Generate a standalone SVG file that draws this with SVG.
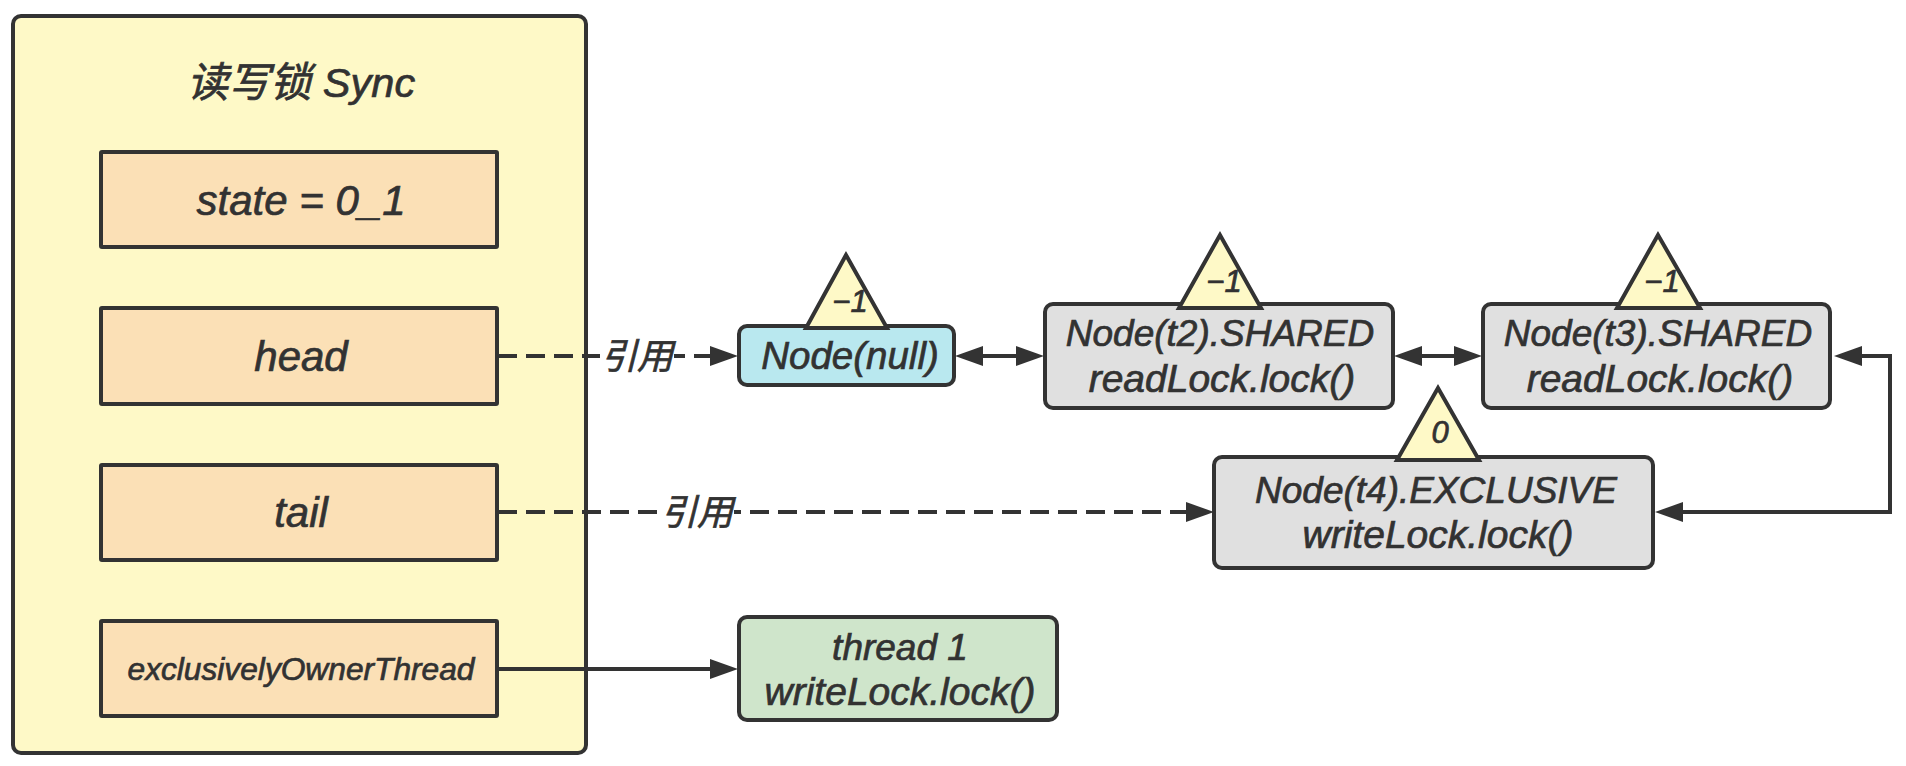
<svg xmlns="http://www.w3.org/2000/svg" width="1906" height="766" viewBox="0 0 1906 766">
  <style>
    text { font-family: "Liberation Sans", "Noto Sans CJK SC", sans-serif; font-style: italic; fill: #323232; stroke: #323232; stroke-width: 0.7px; text-anchor: middle; }
    .outer { fill: #FEF9C7; stroke: #333; stroke-width: 4; }
    .field { fill: #FBE0B6; stroke: #333; stroke-width: 4; }
    .node { stroke: #333; stroke-width: 4; }
    .tri { fill: #FEF9C7; stroke: #333; stroke-width: 4; stroke-linejoin: miter; }
    .big { font-size: 42px; }
    .mid { font-size: 37px; }
    .low { font-size: 39px; }
    .small { font-size: 31px; }
    .link { fill: none; stroke: #333; stroke-width: 4; }
    .dash { stroke-dasharray: 19 9; }
    .ref { font-size: 36px; }
  </style>
  <defs>
    <marker id="head" markerUnits="userSpaceOnUse" markerWidth="28" markerHeight="20" refX="18" refY="10" orient="auto-start-reverse">
      <path d="M0 0L28 10L0 20z" fill="#333"/>
    </marker>
  </defs>
  <rect width="1906" height="766" fill="#fff"/>

  <g id="sync">
    <rect class="outer" x="13" y="16" width="573" height="737" rx="8"/>
    <text x="301" y="97" font-size="41.5">读写锁 Sync</text>
  </g>
  <g id="state">
    <rect class="field" x="101" y="152" width="396" height="95" rx="1"/>
    <text class="big" x="301" y="215">state = 0_1</text>
  </g>
  <g id="head-field">
    <rect class="field" x="101" y="308" width="396" height="96" rx="1"/>
    <text class="big" x="301" y="371">head</text>
  </g>
  <g id="tail-field">
    <rect class="field" x="101" y="465" width="396" height="95" rx="1"/>
    <text class="big" x="301" y="527">tail</text>
  </g>
  <g id="owner-field">
    <rect class="field" x="101" y="621" width="396" height="95" rx="1"/>
    <text x="301" y="680" font-size="31.7">exclusivelyOwnerThread</text>
  </g>

  <g id="connectors">
    <path class="link dash" d="M498 356H728" marker-end="url(#head)"/>
    <path class="link dash" d="M498 512H1204" marker-end="url(#head)"/>
    <path class="link" d="M498 669H728" marker-end="url(#head)"/>
    <path class="link" d="M965 356H1034" marker-start="url(#head)" marker-end="url(#head)"/>
    <path class="link" d="M1404 356H1472" marker-start="url(#head)" marker-end="url(#head)"/>
    <path class="link" d="M1844 356H1890V512H1665" marker-start="url(#head)" marker-end="url(#head)"/>
    <rect x="600" y="338" width="74" height="38" fill="#fff"/>
    <text class="ref" x="637" y="369">引用</text>
    <rect x="660" y="494" width="74" height="38" fill="#fff"/>
    <text class="ref" x="697" y="525">引用</text>
  </g>

  <g id="node-null">
    <rect class="node" x="739" y="326" width="215" height="59" rx="8" fill="#B9E8EF"/>
    <text x="850" y="369" font-size="38.5">Node(null)</text>
    <path class="tri" d="M846 255L806 328H887z"/>
    <text class="small" x="850" y="312">−1</text>
  </g>
  <g id="node-t2">
    <rect class="node" x="1045" y="304" width="348" height="104" rx="8" fill="#E0E0E0"/>
    <text class="mid" x="1220" y="346">Node(t2).SHARED</text>
    <text class="low" x="1222" y="392">readLock.lock()</text>
    <path class="tri" d="M1220 235L1179 308H1261z"/>
    <text class="small" x="1224" y="292">−1</text>
  </g>
  <g id="node-t3">
    <rect class="node" x="1483" y="304" width="347" height="104" rx="8" fill="#E0E0E0"/>
    <text class="mid" x="1658" y="346">Node(t3).SHARED</text>
    <text class="low" x="1660" y="392">readLock.lock()</text>
    <path class="tri" d="M1658 235L1617 308H1700z"/>
    <text class="small" x="1662" y="292">−1</text>
  </g>
  <g id="node-t4">
    <rect class="node" x="1214" y="457" width="439" height="111" rx="8" fill="#E0E0E0"/>
    <text class="mid" x="1436" y="503">Node(t4).EXCLUSIVE</text>
    <text class="low" x="1438" y="548">writeLock.lock()</text>
    <path class="tri" d="M1438 388L1397 460H1479z"/>
    <text class="small" x="1440" y="443">0</text>
  </g>
  <g id="thread-1">
    <rect class="node" x="739" y="617" width="318" height="103" rx="8" fill="#CFE5CB"/>
    <text class="mid" x="900" y="660">thread 1</text>
    <text class="low" x="900" y="705">writeLock.lock()</text>
  </g>
</svg>
